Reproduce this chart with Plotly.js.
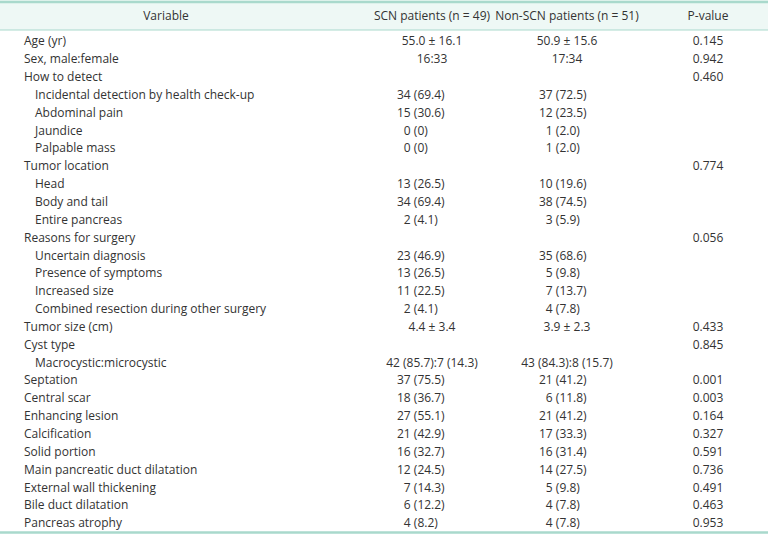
<!DOCTYPE html>
<html>
<head>
<meta charset="utf-8">
<script src="https://cdn.plot.ly/plotly-3.0.1.min.js"></script>
<style>html,body{margin:0;padding:0;background:#fff;}#chart{width:768px;height:536px;}</style>
</head>
<body>
<div id="chart"></div>
<script>
// ---- Data ----
const headers = ["Variable", "SCN patients (n = 49)", "Non-SCN patients (n = 51)", "P-value"];
const variables = [
  "Age (yr)", "Sex, male:female", "How to detect",
  "Incidental detection by health check-up", "Abdominal pain", "Jaundice", "Palpable mass",
  "Tumor location", "Head", "Body and tail", "Entire pancreas",
  "Reasons for surgery", "Uncertain diagnosis", "Presence of symptoms", "Increased size",
  "Combined resection during other surgery",
  "Tumor size (cm)", "Cyst type", "Macrocystic:microcystic",
  "Septation", "Central scar", "Enhancing lesion", "Calcification", "Solid portion",
  "Main pancreatic duct dilatation", "External wall thickening", "Bile duct dilatation", "Pancreas atrophy"
];
const subItem = [0,0,0, 1,1,1,1, 0,1,1,1, 0,1,1,1,1, 0,0,1, 0,0,0,0,0,0,0,0,0];
const scnValues = [
  "55.0 ± 16.1", "16:33", "",
  "34 (69.4)", "15 (30.6)", "0 (0)", "0 (0)",
  "", "13 (26.5)", "34 (69.4)", "2 (4.1)",
  "", "23 (46.9)", "13 (26.5)", "11 (22.5)", "2 (4.1)",
  "4.4 ± 3.4", "", "42 (85.7):7 (14.3)",
  "37 (75.5)", "18 (36.7)", "27 (55.1)", "21 (42.9)", "16 (32.7)",
  "12 (24.5)", "7 (14.3)", "6 (12.2)", "4 (8.2)"
];
const nonScnValues = [
  "50.9 ± 15.6", "17:34", "",
  "37 (72.5)", "12 (23.5)", "1 (2.0)", "1 (2.0)",
  "", "10 (19.6)", "38 (74.5)", "3 (5.9)",
  "", "35 (68.6)", "5 (9.8)", "7 (13.7)", "4 (7.8)",
  "3.9 ± 2.3", "", "43 (84.3):8 (15.7)",
  "21 (41.2)", "6 (11.8)", "21 (41.2)", "17 (33.3)", "16 (31.4)",
  "14 (27.5)", "5 (9.8)", "4 (7.8)", "4 (7.8)"
];
const pValues = [
  "0.145", "0.942", "0.460",
  "", "", "", "",
  "0.774", "", "", "",
  "0.056", "", "", "", "",
  "0.433", "0.845", "",
  "0.001", "0.003", "0.164", "0.327", "0.591",
  "0.736", "0.491", "0.463", "0.953"
];

// ---- Layout helpers ----
const W = 768, H = 536;
const rowY0 = 42.3, rowStep = 17.85, headerY = 16.5;
const teal = "#a9d9cc", headFill = "#eef8f5", txt = "#333333";
const font = {family: "Open Sans, sans-serif", size: 12, color: txt};
const rowY = variables.map((_, i) => rowY0 + i * rowStep);
const FIG = "\u2007";
const isCount = s => /^\d+ \([\d.]+\)$/.test(s);
const pad = s => (/^\d\s/.test(s) ? FIG + s : s);

const traces = [];
function textTrace(xs, ys, texts, pos) {
  traces.push({type: "scatter", mode: "text", x: xs, y: ys, text: texts,
    textposition: pos, textfont: font, hoverinfo: "skip", showlegend: false, cliponaxis: false});
}

// header
textTrace([166, 432, 567, 708], headers.map(() => headerY), headers, "middle center");
// variable column
textTrace(variables.map((_, i) => subItem[i] ? 35 : 24), rowY, variables, "middle right");

function valueColumn(vals, center, left) {
  const cx = [], cy = [], ct = [], lx = [], ly = [], lt = [];
  vals.forEach((v, i) => {
    if (!v) return;
    if (isCount(v)) { lx.push(left); ly.push(rowY[i]); lt.push(pad(v)); }
    else { cx.push(center); cy.push(rowY[i]); ct.push(v); }
  });
  textTrace(cx, cy, ct, "middle center");
  textTrace(lx, ly, lt, "middle right");
}
valueColumn(scnValues, 432, 397);
valueColumn(nonScnValues, 567, 539);
textTrace(pValues.map(() => 708), rowY, pValues, "middle center");

const layout = {
  width: W, height: H, margin: {l: 0, r: 0, t: 0, b: 0},
  paper_bgcolor: "#fff", plot_bgcolor: "#fff",
  xaxis: {range: [0, W], visible: false, fixedrange: true},
  yaxis: {range: [H, 0], visible: false, fixedrange: true},
  shapes: [
    {type: "rect", x0: 0, x1: W, y0: 0, y1: 30, fillcolor: headFill, line: {width: 0}, layer: "below"},
    {type: "line", x0: 0, x1: W, y0: 2, y1: 2, line: {color: teal, width: 2.5}},
    {type: "line", x0: 0, x1: W, y0: 30, y1: 30, line: {color: teal, width: 1}},
    {type: "line", x0: 0, x1: W, y0: 532.5, y1: 532.5, line: {color: teal, width: 2.5}}
  ]
};
Plotly.newPlot("chart", traces, layout, {staticPlot: true, displayModeBar: false});
</script>
</body>
</html>
